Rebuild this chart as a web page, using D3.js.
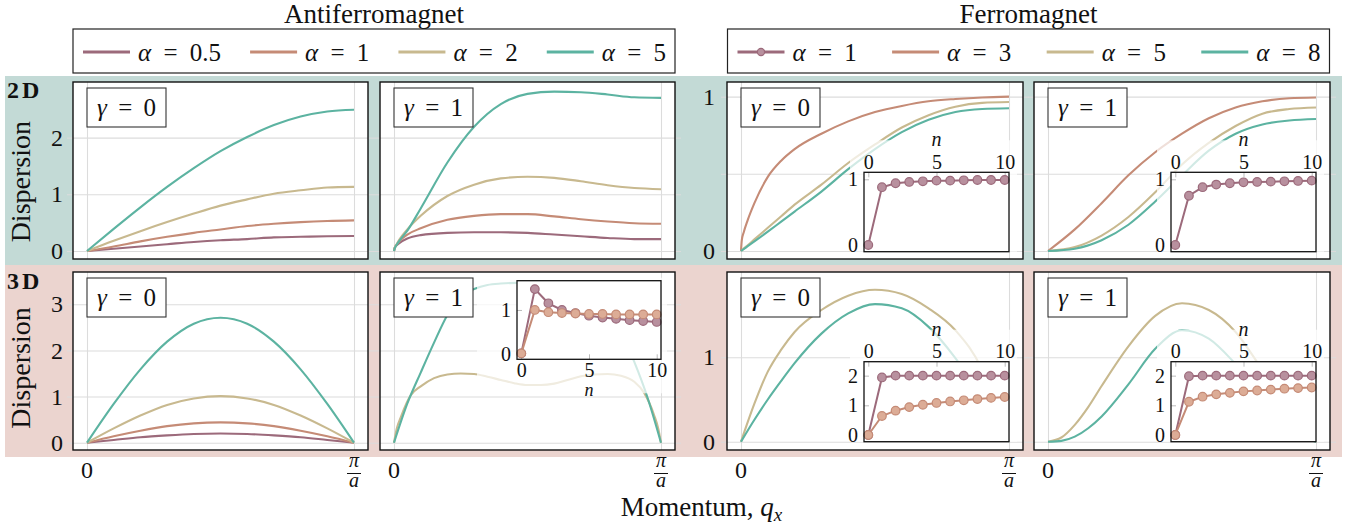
<!DOCTYPE html>
<html><head><meta charset="utf-8">
<script src="https://cdn.jsdelivr.net/npm/d3@7"></script>
<style>
body{margin:0;background:#fff;}
svg{display:block;}
svg text{font-family:'Liberation Serif','Times New Roman',serif;}
</style></head><body>
<svg id="chart" width="1359" height="529"></svg>
<script>
// ---------------- DATA ----------------
const namesAF = ["0.5", "1", "2", "5"];
const namesFM = ["1", "3", "5", "8"];
const xTickLabels = ["0", "π/a"];
const ticksAF2 = [0, 1, 2];
const ticksFM2 = [0, 0.5, 1];
const labelsFM2 = [0, 1];
const ticksAF3 = [0, 1, 2, 3];
const ticksFM3 = [0, 1];
const nIdx = [0, 1, 2, 3, 4, 5, 6, 7, 8, 9, 10];
const nTicks = [0, 5, 10];

// AF 2D, gamma = 0
const q11 = [0, 0.1, 0.2, 0.3, 0.4, 0.5, 0.6, 0.7, 0.8, 0.9, 1];
const af2g0_a05 = [0, 0.04, 0.08, 0.12, 0.16, 0.19, 0.21, 0.24, 0.25, 0.26, 0.265];
const af2g0_a1  = [0, 0.08, 0.17, 0.25, 0.32, 0.38, 0.44, 0.48, 0.51, 0.53, 0.54];
const af2g0_a2  = [0, 0.18, 0.35, 0.51, 0.66, 0.80, 0.91, 1.01, 1.07, 1.12, 1.13];
const af2g0_a5  = [0, 0.39, 0.77, 1.13, 1.46, 1.76, 2.01, 2.22, 2.37, 2.46, 2.49];

// AF 2D, gamma = 1
const qAF2 = [0, 0.003, 0.01, 0.02, 0.05, 0.1, 0.2, 0.3, 0.4, 0.5, 0.6, 0.7, 0.8, 0.9, 1];
const af2g1_a05 = [0, 0.06, 0.10, 0.14, 0.22, 0.28, 0.32, 0.33, 0.33, 0.32, 0.29, 0.26, 0.23, 0.21, 0.21];
const af2g1_a1  = [0, 0.06, 0.11, 0.17, 0.29, 0.40, 0.55, 0.62, 0.65, 0.65, 0.61, 0.56, 0.52, 0.49, 0.48];
const af2g1_a2  = [0, 0.06, 0.12, 0.20, 0.38, 0.62, 0.97, 1.17, 1.28, 1.31, 1.29, 1.23, 1.16, 1.11, 1.09];
const af2g1_a5  = [0, 0.05, 0.11, 0.18, 0.36, 0.75, 1.56, 2.19, 2.59, 2.77, 2.81, 2.80, 2.76, 2.71, 2.70];

// FM 2D, gamma = 0
const qFM2 = [0, 0.003, 0.01, 0.025, 0.05, 0.1, 0.15, 0.2, 0.3, 0.4, 0.5, 0.6, 0.7, 0.8, 0.9, 1];
const fm2g0_a3 = [0, 0.07, 0.12, 0.20, 0.31, 0.48, 0.585, 0.66, 0.76, 0.84, 0.90, 0.94, 0.97, 0.985, 0.995, 1.0];
const fm2g0_a5 = [0, 0.0045, 0.015, 0.037, 0.075, 0.15, 0.225, 0.30, 0.43, 0.57, 0.69, 0.80, 0.88, 0.935, 0.96, 0.965];
const fm2g0_a8 = [0, 0.004, 0.012, 0.031, 0.062, 0.125, 0.19, 0.255, 0.385, 0.53, 0.66, 0.77, 0.85, 0.90, 0.92, 0.925];

// FM 2D, gamma = 1
const fm2g1_a3 = [0, 0.14, 0.31, 0.49, 0.64, 0.76, 0.86, 0.93, 0.97, 0.99, 0.995];
const fm2g1_a5 = [0, 0.025, 0.10, 0.22, 0.38, 0.56, 0.70, 0.81, 0.89, 0.92, 0.93];
const fm2g1_a8 = [0, 0.015, 0.07, 0.17, 0.32, 0.49, 0.65, 0.76, 0.82, 0.845, 0.855];

// AF 3D, gamma = 0
const af3g0_a05 = [0, 0.06, 0.12, 0.16, 0.19, 0.20, 0.19, 0.16, 0.12, 0.06, 0];
const af3g0_a1  = [0, 0.14, 0.26, 0.36, 0.42, 0.44, 0.42, 0.36, 0.26, 0.14, 0];
const af3g0_a2  = [0, 0.31, 0.59, 0.82, 0.96, 1.01, 0.96, 0.82, 0.59, 0.31, 0];
const af3g0_a5  = [0, 0.84, 1.59, 2.19, 2.58, 2.71, 2.58, 2.19, 1.59, 0.84, 0];

// AF 3D, gamma = 1
const qAF3t = [0, 0.05, 0.1, 0.15, 0.2, 0.25, 0.3, 0.35, 0.4, 0.5, 0.6, 0.65, 0.7, 0.75, 0.8, 0.85, 0.9, 0.95, 1];
const af3g1_a5 = [0, 0.85, 1.52, 2.17, 2.77, 3.17, 3.33, 3.42, 3.45, 3.47, 3.46, 3.43, 3.36, 3.2, 2.9, 2.4, 1.75, 0.97, 0];
const qAF3k = [0, 0.01, 0.026, 0.063, 0.1, 0.15, 0.2, 0.25, 0.3, 0.35, 0.4, 0.45, 0.5, 0.55, 0.6, 0.65, 0.7, 0.75, 0.8, 0.85, 0.9, 0.937, 0.974, 0.99, 1];
const af3g1_a2 = [0, 0.30, 0.56, 1.03, 1.22, 1.40, 1.48, 1.50, 1.49, 1.43, 1.36, 1.29, 1.25, 1.25, 1.28, 1.36, 1.44, 1.48, 1.49, 1.45, 1.32, 1.08, 0.60, 0.30, 0];

// FM 3D
const qFM3 = [0, 0.05, 0.1, 0.15, 0.2, 0.3, 0.4, 0.5, 0.6, 0.7, 0.8, 0.9, 0.95, 1];
const fm3g0_a5 = [0, 0.45, 0.83, 1.09, 1.30, 1.56, 1.73, 1.80, 1.75, 1.58, 1.32, 0.85, 0.45, 0];
const fm3g0_a8 = [0, 0.26, 0.50, 0.72, 0.93, 1.28, 1.52, 1.63, 1.58, 1.36, 0.99, 0.52, 0.26, 0];
const fm3g1_a5 = [0, 0.05, 0.20, 0.41, 0.66, 1.13, 1.49, 1.64, 1.56, 1.30, 0.85, 0.40, 0.12, 0];
const fm3g1_a8 = [0, 0.01, 0.06, 0.16, 0.30, 0.68, 1.10, 1.32, 1.22, 0.92, 0.55, 0.20, 0.06, 0];

// insets (value vs n)
const inFM2g0_a1 = [0, 0.88, 0.94, 0.96, 0.97, 0.98, 0.98, 0.985, 0.99, 0.99, 0.99];
const inFM2g1_a1 = [0, 0.75, 0.88, 0.92, 0.94, 0.955, 0.96, 0.965, 0.97, 0.975, 0.98];
const inAF3g1_a05 = [0.02, 1.47, 1.15, 1.0, 0.93, 0.87, 0.83, 0.80, 0.77, 0.75, 0.73];
const inAF3g1_a1  = [0.02, 1.0, 0.95, 0.93, 0.92, 0.91, 0.91, 0.90, 0.90, 0.90, 0.90];
const inFM3g0_a1 = [0, 1.94, 2, 2, 2, 2, 2, 2, 2, 2, 2];
const inFM3g0_a3 = [0, 0.64, 0.82, 0.94, 1.02, 1.08, 1.13, 1.17, 1.21, 1.25, 1.28];
const inFM3g1_a1 = [0, 1.98, 2, 2, 2, 2, 2, 2, 2, 2, 2];
const inFM3g1_a3 = [0, 1.12, 1.29, 1.37, 1.42, 1.47, 1.50, 1.53, 1.56, 1.58, 1.60];

// ---------------- STYLE / LAYOUT ----------------
const FONT = "'Liberation Serif','Times New Roman',serif";
const COL = ["#9c6a7b", "#c58b76", "#c8b98f", "#5cb3a1"];
const FILL = ["#b8909e", "#dcac96"];
const GRID = "#dcdcdc";
const zip = (xs, ys) => xs.map((v, i) => [v, ys[i]]);

const svg = d3.select("#chart").attr("font-family", FONT);

svg.append("rect").attr("x", 5).attr("y", 76).attr("width", 1337).attr("height", 189).attr("fill", "#c3dad6");
svg.append("rect").attr("x", 5).attr("y", 265).attr("width", 1337).attr("height", 192).attr("fill", "#ebd4cf");

const cols = [{l: 73, r: 368}, {l: 380, r: 675}, {l: 727, r: 1023}, {l: 1034, r: 1330}];
const rows = [{t: 82, b: 259}, {t: 272, b: 450}];

const yCfg = {
  AF2: {dom: [-0.141, 2.98], ticks: ticksAF2, labels: ticksAF2},
  FM2: {dom: [-0.052, 1.095], ticks: ticksFM2, labels: labelsFM2},
  AF3: {dom: [-0.158, 3.70], ticks: ticksAF3, labels: ticksAF3},
  FM3: {dom: [-0.098, 2.01], ticks: ticksFM3, labels: ticksFM3}
};

const panels = [
  {row: 0, col: 0, cfg: "AF2", gamma: "0", series: [[q11, af2g0_a05, 0], [q11, af2g0_a1, 1], [q11, af2g0_a2, 2], [q11, af2g0_a5, 3]]},
  {row: 0, col: 1, cfg: "AF2", gamma: "1", series: [[qAF2, af2g1_a05, 0], [qAF2, af2g1_a1, 1], [qAF2, af2g1_a2, 2], [qAF2, af2g1_a5, 3]]},
  {row: 0, col: 2, cfg: "FM2", gamma: "0", series: [[qFM2, fm2g0_a3, 1], [qFM2, fm2g0_a5, 2], [qFM2, fm2g0_a8, 3]],
    inset: {series: [[inFM2g0_a1, 0]], dom: [-0.102, 1.107], ticks: [0, 1], side: "top", top: 172.3, bottom: 251.7}},
  {row: 0, col: 3, cfg: "FM2", gamma: "1", series: [[q11, fm2g1_a3, 1], [q11, fm2g1_a5, 2], [q11, fm2g1_a8, 3]],
    inset: {series: [[inFM2g1_a1, 0]], dom: [-0.102, 1.107], ticks: [0, 1], side: "top", top: 172.3, bottom: 251.7}},
  {row: 1, col: 0, cfg: "AF3", gamma: "0", series: [[q11, af3g0_a05, 0], [q11, af3g0_a1, 1], [q11, af3g0_a2, 2], [q11, af3g0_a5, 3]]},
  {row: 1, col: 1, cfg: "AF3", gamma: "1", series: [[qAF3k, af3g1_a2, 2], [qAF3t, af3g1_a5, 3]],
    inset: {series: [[inAF3g1_a05, 0], [inAF3g1_a1, 1]], dom: [-0.113, 1.66], ticks: [0, 1], side: "bottom", top: 280.7, bottom: 359.3}},
  {row: 1, col: 2, cfg: "FM3", gamma: "0", series: [[qFM3, fm3g0_a5, 2], [qFM3, fm3g0_a8, 3]],
    inset: {series: [[inFM3g0_a1, 0], [inFM3g0_a3, 1]], dom: [-0.226, 2.47], ticks: [0, 1, 2], side: "top", top: 361.7, bottom: 441.7}},
  {row: 1, col: 3, cfg: "FM3", gamma: "1", series: [[qFM3, fm3g1_a5, 2], [qFM3, fm3g1_a8, 3]],
    inset: {series: [[inFM3g1_a1, 0], [inFM3g1_a3, 1]], dom: [-0.226, 2.47], ticks: [0, 1, 2], side: "top", top: 361.7, bottom: 441.7}}
];

const defs = svg.append("defs");

function cleanAxis(g) {
  g.select(".domain").remove();
  g.attr("font-family", FONT);
  return g;
}

panels.forEach((p, pi) => {
  const C = cols[p.col], R = rows[p.row];
  const cfg = yCfg[p.cfg];
  const x = d3.scaleLinear().domain([0, 1]).range([C.l + 14, C.r - 14]);
  const y = d3.scaleLinear().domain(cfg.dom).range([R.b, R.t]);
  const g = svg.append("g");

  // outer tick stubs
  cleanAxis(g.append("g").attr("transform", `translate(${C.l},0)`)
    .call(d3.axisLeft(y).tickValues(cfg.ticks).tickSize(6).tickFormat("")))
    .selectAll("line").attr("stroke", GRID).attr("stroke-width", 1);
  cleanAxis(g.append("g").attr("transform", `translate(${C.r},0)`)
    .call(d3.axisRight(y).tickValues(cfg.ticks).tickSize(6).tickFormat("")))
    .selectAll("line").attr("stroke", GRID).attr("stroke-width", 1);

  g.append("rect").attr("x", C.l).attr("y", R.t).attr("width", C.r - C.l).attr("height", R.b - R.t).attr("fill", "#fff");

  // grid
  cleanAxis(g.append("g").attr("transform", `translate(${C.l},0)`)
    .call(d3.axisLeft(y).tickValues(cfg.ticks).tickSize(-(C.r - C.l)).tickFormat("")))
    .selectAll("line").attr("stroke", GRID).attr("stroke-width", 1.1);
  cleanAxis(g.append("g").attr("transform", `translate(0,${R.b})`)
    .call(d3.axisBottom(x).tickValues([0, 1]).tickSize(-(R.b - R.t)).tickFormat("")))
    .selectAll("line").attr("stroke", GRID).attr("stroke-width", 1.1);

  // y labels
  if (p.col === 0 || p.col === 2) {
    const ga = cleanAxis(g.append("g").attr("transform", `translate(${C.l},0)`)
      .call(d3.axisLeft(y).tickValues(cfg.labels).tickSize(0).tickPadding(p.col === 0 ? 10 : 12).tickFormat(d3.format("d"))));
    ga.attr("font-size", 24);
    ga.selectAll("text").attr("fill", "#111");
  }

  // curves
  const cid = "clip" + pi;
  defs.append("clipPath").attr("id", cid).append("rect")
    .attr("x", C.l).attr("y", R.t).attr("width", C.r - C.l).attr("height", R.b - R.t);
  const line = d3.line().x(d => x(d[0])).y(d => y(d[1])).curve(d3.curveMonotoneX);
  const gc = g.append("g").attr("clip-path", `url(#${cid})`);
  p.series.forEach(s => {
    gc.append("path").datum(zip(s[0], s[1])).attr("d", line)
      .attr("fill", "none").attr("stroke", COL[s[2]]).attr("stroke-width", 2.1);
  });

  // gamma box
  const bx = C.l + 14, by = R.t + 6;
  g.append("rect").attr("x", bx).attr("y", by).attr("width", 79).attr("height", 39)
    .attr("fill", "#fff").attr("stroke", "#333").attr("stroke-width", 1.1);
  const gt = g.append("text").attr("x", bx + 39.5).attr("y", by + 28).attr("text-anchor", "middle")
    .attr("font-size", 25).attr("word-spacing", 5).attr("fill", "#111");
  gt.append("tspan").attr("font-style", "italic").text("γ");
  gt.append("tspan").text(" = " + p.gamma);

  // inset
  if (p.inset) {
    const I = p.inset;
    const top = I.side === "top";
    const il = C.l + 137, ir = C.r - 14;
    const ix = d3.scaleLinear().domain([0, 10]).range([il + 4.3, ir - 4.3]);
    const iy = d3.scaleLinear().domain(I.dom).range([I.bottom, I.top]);
    // translucent label area
    if (top) {
      g.append("rect").attr("x", il - 14).attr("y", I.top - 32).attr("width", ir - il + 22).attr("height", I.bottom - I.top + 32)
        .attr("fill", "#fff").attr("opacity", 0.72);
    } else {
      g.append("rect").attr("x", il - 40).attr("y", I.top - 3).attr("width", ir - il + 46).attr("height", I.bottom - I.top + 37)
        .attr("fill", "#fff").attr("opacity", 0.72);
    }
    g.append("rect").attr("x", il).attr("y", I.top).attr("width", ir - il).attr("height", I.bottom - I.top).attr("fill", "#fff");
    // inner tick marks
    const axX = top
      ? d3.axisTop(ix).tickValues(nTicks).tickSize(-5).tickFormat("")
      : d3.axisBottom(ix).tickValues(nTicks).tickSize(-5).tickFormat("");
    cleanAxis(g.append("g").attr("transform", `translate(0,${top ? I.top : I.bottom})`).call(axX))
      .selectAll("line").attr("stroke", "#bbb");
    cleanAxis(g.append("g").attr("transform", `translate(${il},0)`)
      .call(d3.axisLeft(iy).tickValues(I.ticks).tickSize(-5).tickFormat("")))
      .selectAll("line").attr("stroke", "#bbb");
    // labels
    const lx = cleanAxis(g.append("g").attr("transform", `translate(0,${top ? I.top : I.bottom})`)
      .call((top ? d3.axisTop(ix) : d3.axisBottom(ix)).tickValues(nTicks).tickSize(0).tickPadding(3.5).tickFormat(d3.format("d"))));
    lx.attr("font-size", 20); lx.selectAll("text").attr("fill", "#111");
    const ly = cleanAxis(g.append("g").attr("transform", `translate(${il},0)`)
      .call(d3.axisLeft(iy).tickValues(I.ticks).tickSize(0).tickPadding(6).tickFormat(d3.format("d"))));
    ly.attr("font-size", 20); ly.selectAll("text").attr("fill", "#111");
    g.append("text").attr("x", ix(5)).attr("y", top ? I.top - 26 : I.bottom + 37)
      .attr("text-anchor", "middle").attr("font-size", top ? 20 : 18).attr("font-style", "italic").attr("fill", "#111").text("n");
    // series
    const iline = d3.line().x((d, i) => ix(nIdx[i])).y(d => iy(d));
    I.series.forEach(s => {
      const gs = g.append("g");
      gs.append("path").datum(s[0]).attr("d", iline).attr("fill", "none").attr("stroke", COL[s[1]]).attr("stroke-width", 2);
      gs.selectAll("circle").data(s[0]).join("circle")
        .attr("cx", (d, i) => ix(nIdx[i])).attr("cy", d => iy(d)).attr("r", 4.3)
        .attr("fill", FILL[s[1]]).attr("stroke", COL[s[1]]).attr("stroke-width", 1.2);
    });
    g.append("rect").attr("x", il).attr("y", I.top).attr("width", ir - il).attr("height", I.bottom - I.top)
      .attr("fill", "none").attr("stroke", "#111").attr("stroke-width", 1.3);
  }

  // border
  g.append("rect").attr("x", C.l).attr("y", R.t).attr("width", C.r - C.l).attr("height", R.b - R.t)
    .attr("fill", "none").attr("stroke", "#111").attr("stroke-width", 1.4);

  // x labels under bottom row
  if (p.row === 1) {
    const gx = g.append("g").attr("fill", "#111");
    gx.append("text").attr("x", x(0)).attr("y", 478).attr("text-anchor", "middle").attr("font-size", 24).text(xTickLabels[0]);
    const fx = x(1);
    const parts = xTickLabels[1].split("/");
    const ft = gx.append("text").attr("text-anchor", "middle").attr("font-size", 20).attr("font-style", "italic");
    ft.append("tspan").attr("x", fx).attr("y", 467).text(parts[0]);
    ft.append("tspan").attr("x", fx).attr("y", 487).text(parts[1]);
    gx.append("line").attr("x1", fx - 7).attr("x2", fx + 7).attr("y1", 473.5).attr("y2", 473.5).attr("stroke", "#111").attr("stroke-width", 1);
  }
});

// row labels
[["2D", 98, 181.7], ["3D", 289, 368]].forEach(([t, by, cy]) => {
  svg.append("text").attr("x", 7).attr("y", by).attr("font-size", 24).attr("font-weight", "bold").attr("letter-spacing", 3).attr("fill", "#111").text(t);
  svg.append("text").attr("transform", `translate(30,${cy}) rotate(-90)`).attr("text-anchor", "middle")
    .attr("font-size", 28).attr("fill", "#111").text("Dispersion");
});

// titles
svg.append("text").attr("x", 374).attr("y", 23).attr("text-anchor", "middle").attr("font-size", 27).attr("fill", "#111").text("Antiferromagnet");
svg.append("text").attr("x", 1028.5).attr("y", 23).attr("text-anchor", "middle").attr("font-size", 27).attr("fill", "#111").text("Ferromagnet");

// x axis label
const xl = svg.append("text").attr("x", 701.5).attr("y", 516).attr("text-anchor", "middle").attr("font-size", 27).attr("fill", "#111");
xl.append("tspan").text("Momentum, ");
xl.append("tspan").attr("font-style", "italic").text("q");
xl.append("tspan").attr("font-style", "italic").attr("font-size", 19).attr("dy", 5).text("x");

// legends
function legend(x0, names, marker) {
  const y0 = 29, w = 602, h = 44, cy = y0 + 23;
  const g = svg.append("g");
  g.append("rect").attr("x", x0).attr("y", y0).attr("width", w).attr("height", h)
    .attr("fill", "#fff").attr("stroke", "#222").attr("stroke-width", 1.2);
  const items = names.map((nm, i) => {
    const it = g.append("g");
    it.append("line").attr("x1", 0).attr("x2", 47).attr("y1", 0).attr("y2", 0).attr("stroke", COL[i]).attr("stroke-width", 2.8);
    if (marker && i === 0) {
      it.append("circle").attr("cx", 23.5).attr("cy", 0).attr("r", 3.6).attr("fill", FILL[0]).attr("stroke", COL[0]).attr("stroke-width", 1.2);
    }
    const t = it.append("text").attr("x", 55).attr("y", 8.5).attr("font-size", 25).attr("word-spacing", 6).attr("fill", "#111");
    t.append("tspan").attr("font-style", "italic").text("α");
    t.append("tspan").text(" = " + nm);
    return {it, w: 55 + t.node().getComputedTextLength()};
  });
  const padL = 10, padR = 9;
  const tot = d3.sum(items, d => d.w);
  const gap = (w - padL - padR - tot) / (items.length - 1);
  let cx = x0 + padL;
  items.forEach(d => { d.it.attr("transform", `translate(${cx},${cy})`); cx += d.w + gap; });
}
legend(73, namesAF, false);
legend(727.5, namesFM, true);
</script>
</body></html>
